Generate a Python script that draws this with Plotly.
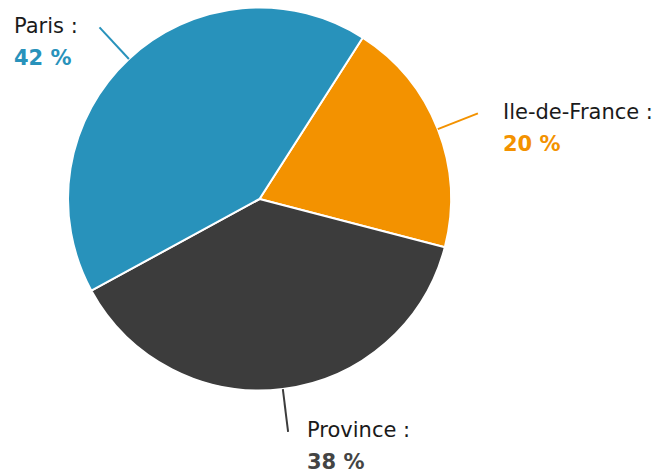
import math
import plotly.graph_objects as go

labels = ["Ile-de-France", "Province", "Paris"]
values = [20, 38, 42]
colors = ["#F39200", "#3C3C3C", "#2892BB"]
pct_colors = ["#F39200", "#444444", "#2892BB"]

W, H = 666, 475
cx, cy, r = 259.5, 199, 191.5
start_angle = 32.6  # degrees, clockwise from 12 o'clock

fig = go.Figure(go.Pie(
    labels=labels,
    values=values,
    sort=False,
    direction="clockwise",
    rotation=start_angle,
    marker=dict(colors=colors, line=dict(color="white", width=2)),
    textinfo="none",
    hoverinfo="skip",
    showlegend=False,
    domain=dict(x=[(cx - r) / W, (cx + r) / W], y=[1 - (cy + r) / H, 1 - (cy - r) / H]),
))

total = sum(values)
angle = start_angle
shapes = []
annotations = []
for lab, v, c, pc in zip(labels, values, colors, pct_colors):
    span = 360 * v / total
    mid = math.radians(angle + span / 2)
    angle += span
    sx, sy = math.sin(mid), -math.cos(mid)
    x0, y0 = cx + r * sx, cy + r * sy
    ro = r * 1.225
    x1, y1 = cx + ro * sx, cy + ro * sy
    shapes.append(dict(type="line", xref="paper", yref="paper",
                       x0=x0 / W, y0=1 - y0 / H, x1=x1 / W, y1=1 - y1 / H,
                       line=dict(color=c, width=2)))
    right = sx >= 0
    gap = 16 + 7.5 * abs(sx) if right else 20
    text = (f"<span style='font-size:21px;color:#1a1a1a'>{lab} :</span><br>"
            f"<span style='font-size:21px;color:{pc}'><b>{v} %</b></span>")
    annotations.append(dict(
        x=x1 / W, y=1 - y1 / H, xref="paper", yref="paper",
        text=text, showarrow=False, align="left",
        xanchor="left" if right else "right", yanchor="top",
        xshift=gap if right else -gap, yshift=15.5,
        font=dict(family="DejaVu Sans", size=24.6, color="#1a1a1a"),
    ))

fig.update_layout(
    width=W, height=H,
    margin=dict(l=0, r=0, t=0, b=0),
    paper_bgcolor="white", plot_bgcolor="white",
    shapes=shapes, annotations=annotations,
    font=dict(family="DejaVu Sans"),
)

fig.write_html("out.html", config={"displayModeBar": False})
